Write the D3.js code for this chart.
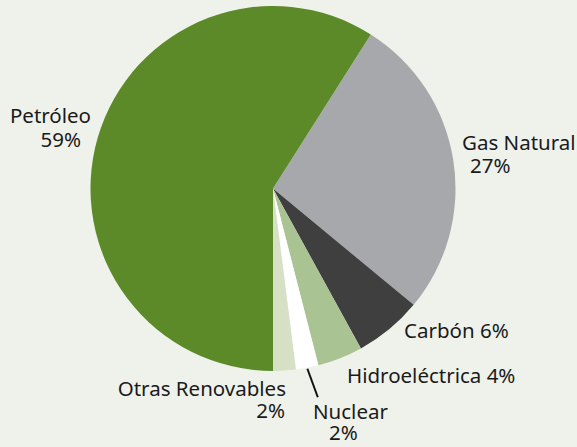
<!DOCTYPE html>
<html>
<head>
<meta charset="utf-8">
<script src="https://cdn.jsdelivr.net/npm/d3@7"></script>
<style>
  body { margin: 0; background: #eff2ea; }
  svg text { font-family: "Noto Sans", sans-serif; fill: #1a1a1a; }
</style>
</head>
<body>
<svg width="577" height="447"></svg>
<script>
// data, in the order the slices run clockwise from the gas slice
var categories = ["Gas Natural", "Carbón", "Hidroeléctrica", "Nuclear", "Otras Renovables", "Petróleo"];
var values = [27, 6, 4, 2, 2, 59];
var colors = ["#a7a8ac", "#3f3f3f", "#aac392", "#ffffff", "#d5e0c5", "#5c8a29"];

// labels: each one a list of lines [text, x, y], plus anchor
var labels = [
  { anchor: "end",   lines: [["Petróleo", 91, 123], ["59%", 81, 147]] },
  { anchor: "start", lines: [["Gas Natural", 462, 150], ["27%", 470, 173]] },
  { anchor: "start", lines: [["Carbón 6%", 404, 338]] },
  { anchor: "start", lines: [["Hidroeléctrica 4%", 347, 383]] },
  { anchor: "start", lines: [["Nuclear", 313, 419], ["2%", 329, 440]] },
  { anchor: "end",   lines: [["Otras Renovables", 286, 396], ["2%", 285, 418]] }
];

var svg = d3.select("svg"),
    cx = 273, cy = 188.5, radius = 182.5;

var total = d3.sum(values);
// last slice (Petróleo) ends straight down, so start where the others add up
var start = Math.PI - (total - values[5]) / total * 2 * Math.PI;

var pie = d3.pie()
    .sort(null)
    .startAngle(start)
    .endAngle(start + 2 * Math.PI);

var arc = d3.arc().innerRadius(0).outerRadius(radius);

var g = svg.append("g")
    .attr("transform", "translate(" + cx + "," + cy + ")");

g.selectAll("path")
  .data(pie(values))
  .enter().append("path")
    .attr("d", arc)
    .attr("fill", function(d, i) { return colors[i]; });

// leader line for nuclear
var nuc = pie(values)[3];
var mid = (nuc.startAngle + nuc.endAngle) / 2;
var r1 = radius + 1, r2 = radius + 30;
g.append("line")
    .attr("x1", Math.sin(mid) * r1)
    .attr("y1", -Math.cos(mid) * r1)
    .attr("x2", Math.sin(mid) * r2 + 5)
    .attr("y2", -Math.cos(mid) * r2)
    .attr("stroke", "#111")
    .attr("stroke-width", 2);

svg.append("g").selectAll("text")
  .data(labels)
  .enter().append("text")
    .attr("text-anchor", function(d) { return d.anchor; })
    .attr("font-size", 20.5)
  .selectAll("tspan")
  .data(function(d) { return d.lines; })
  .enter().append("tspan")
    .attr("x", function(d) { return d[1]; })
    .attr("y", function(d) { return d[2]; })
    .text(function(d) { return d[0]; });
</script>
</body>
</html>
